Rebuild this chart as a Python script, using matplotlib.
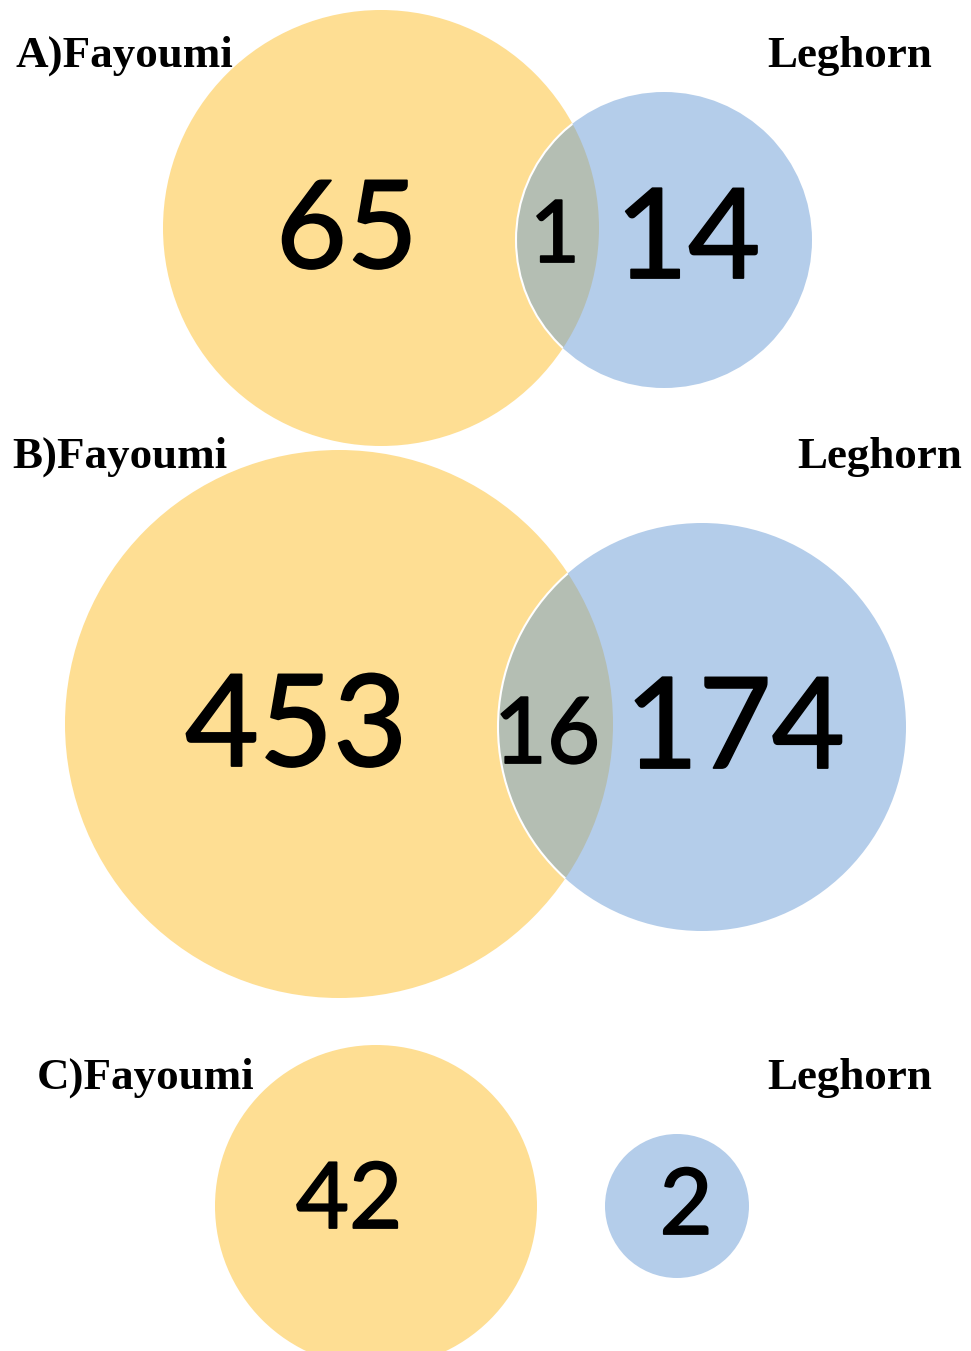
import matplotlib
matplotlib.use("Agg")
import matplotlib.pyplot as plt
import matplotlib.patheffects as pe
from matplotlib.patches import Circle

# counts per panel
panels = ["A", "B", "C"]
fayoumi_only = [65, 453, 42]
shared = [1, 16, 0]
leghorn_only = [14, 174, 2]
groups = ["Fayoumi", "Leghorn"]

# layout (pixels, y down)
YELLOW = "#FEDE93"
BLUE = "#B4CDEA"
GREY = "#B4BEB3"
fay_circ = [(381, 228, 218), (339, 724, 274), (376, 1206, 161)]
leg_circ = [(664, 240, 148), (702, 727, 204), (677, 1206, 72)]
fay_txt = [(347, 268, 88), (296, 766, 92), (349, 1228, 66)]
shr_txt = [(555, 262, 62), (547, 763, 66), None]
leg_txt = [(688, 278, 90), (735, 768, 91), (686, 1234, 66)]
lab_left = [(15, 67), (12, 468), (37, 1089)]
lab_right = [(932, 67), (962, 468), (932, 1089)]

NUM_FONT = "Lato"
DIGIT_H = 0.72  # digit height as fraction of em


def num(ax, s, spec):
    x, yb, h = spec
    ax.text(x, yb, s, ha="center", va="baseline", fontfamily=NUM_FONT,
            fontsize=h / DIGIT_H * 0.72, color="black", zorder=6,
            path_effects=[pe.withStroke(linewidth=1.3, foreground="black")])


fig = plt.figure(figsize=(9.71, 13.51), dpi=100)
ax = fig.add_axes([0, 0, 1, 1])
ax.set_xlim(0, 971)
ax.set_ylim(1351, 0)
ax.axis("off")

for i, p in enumerate(panels):
    fx, fy, fr = fay_circ[i]
    lx, ly, lr = leg_circ[i]
    yc = Circle((fx, fy), fr, facecolor=YELLOW, edgecolor="none", zorder=1)
    ax.add_patch(yc)
    bc = Circle((lx, ly), lr, facecolor=BLUE, edgecolor="none", zorder=2)
    ax.add_patch(bc)
    if shared[i]:
        lens = Circle((fx, fy), fr, facecolor=GREY, edgecolor="none", zorder=3)
        ax.add_patch(lens)
        lens.set_clip_path(bc)
        rim = Circle((lx, ly), lr, fill=False, edgecolor="white", lw=1.5, zorder=4)
        ax.add_patch(rim)
        rim.set_clip_path(yc)
        num(ax, str(shared[i]), shr_txt[i])
    num(ax, str(fayoumi_only[i]), fay_txt[i])
    num(ax, str(leghorn_only[i]), leg_txt[i])

    ax.text(*lab_left[i], f"{p}){groups[0]}", ha="left", va="baseline",
            fontfamily="Liberation Serif", fontweight="bold", fontsize=32.4, zorder=7)
    ax.text(*lab_right[i], groups[1], ha="right", va="baseline",
            fontfamily="Liberation Serif", fontweight="bold", fontsize=32.4, zorder=7)

fig.savefig("out.png", dpi=100)
